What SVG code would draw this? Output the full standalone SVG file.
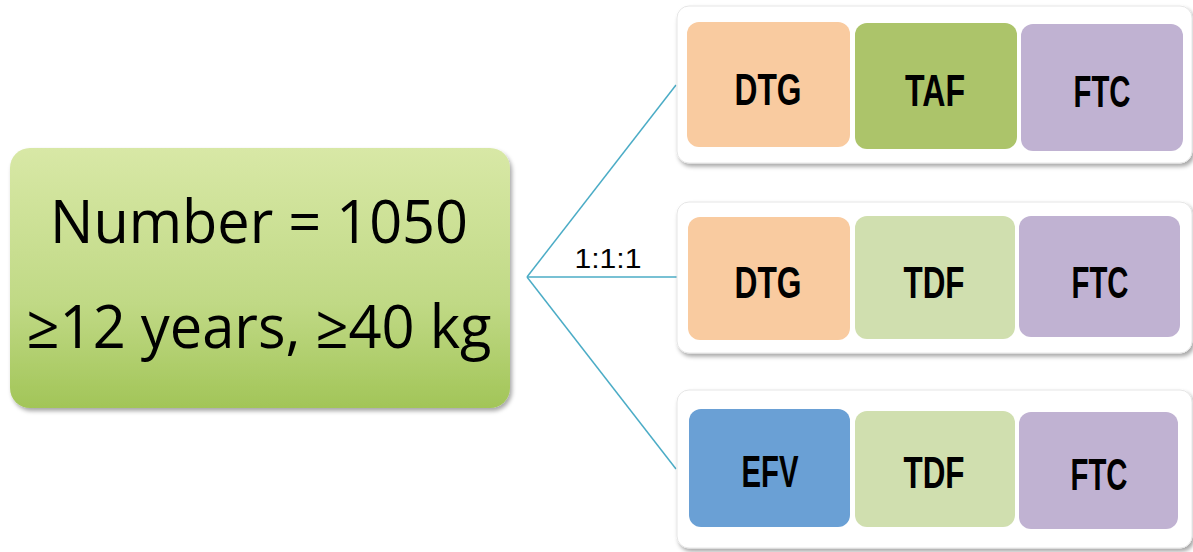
<svg xmlns="http://www.w3.org/2000/svg" width="1193" height="552" viewBox="0 0 1193 552">
<defs>
<linearGradient id="gMain" x1="0" y1="0" x2="0" y2="1">
<stop offset="0" stop-color="#d8e8a6"/>
<stop offset="0.6" stop-color="#c0d985"/>
<stop offset="1" stop-color="#a2c558"/>
</linearGradient>
<filter id="sh" x="-5%" y="-5%" width="115%" height="120%">
<feDropShadow dx="2" dy="3" stdDeviation="2" flood-color="#000" flood-opacity="0.35"/>
</filter>
</defs>
<style>
.lbl{font-family:"Liberation Sans",Arial,sans-serif;font-weight:bold;font-size:45px;fill:#000;text-anchor:middle}
.main{font-family:"Open Sans","Liberation Sans",sans-serif;font-size:60px;fill:#000;text-anchor:middle}
.card{fill:#fff;stroke:#e6e6e6;stroke-width:1;filter:url(#sh)}
.conn{stroke:#4bacc6;stroke-width:1.5;fill:none}
.dtg{fill:#f9cba0}.taf{fill:#acc46a}.ftc{fill:#c0b2d2}.tdf{fill:#d0dfaf}.efv{fill:#6aa0d5}
</style>
<g id="connectors">
<line class="conn" x1="527" y1="277" x2="676" y2="85"/>
<line class="conn" x1="527" y1="277" x2="677" y2="277"/>
<line class="conn" x1="527" y1="277" x2="676" y2="469"/>
<text x="608" y="268" font-family="Liberation Sans,Arial,sans-serif" font-size="28" text-anchor="middle" textLength="67" lengthAdjust="spacingAndGlyphs" fill="#000">1:1:1</text>
</g>
<g id="main">
<rect x="10" y="148" width="500" height="260" rx="20" fill="url(#gMain)" filter="url(#sh)"/>
<text class="main" x="259" y="243" textLength="418" lengthAdjust="spacingAndGlyphs">Number = 1050</text>
<text class="main" x="259" y="348" textLength="465" lengthAdjust="spacingAndGlyphs">≥12 years, ≥40 kg</text>
</g>
<g id="arm1">
<rect class="card" x="677" y="6" width="515" height="157" rx="12"/>
<rect class="dtg" x="687" y="22" width="163" height="125" rx="12"/>
<text class="lbl" x="768" y="105" textLength="67" lengthAdjust="spacingAndGlyphs">DTG</text>
<rect class="taf" x="855" y="23" width="162" height="126" rx="12"/>
<text class="lbl" x="935" y="106" textLength="60" lengthAdjust="spacingAndGlyphs">TAF</text>
<rect class="ftc" x="1021" y="24" width="162" height="127" rx="12"/>
<text class="lbl" x="1102" y="107" textLength="57" lengthAdjust="spacingAndGlyphs">FTC</text>
</g>
<g id="arm2">
<rect class="card" x="677" y="202" width="515" height="151" rx="12"/>
<rect class="dtg" x="688" y="217" width="162" height="123" rx="12"/>
<text class="lbl" x="768" y="298" textLength="67" lengthAdjust="spacingAndGlyphs">DTG</text>
<rect class="tdf" x="855" y="216" width="160" height="123" rx="12"/>
<text class="lbl" x="934" y="298" textLength="61" lengthAdjust="spacingAndGlyphs">TDF</text>
<rect class="ftc" x="1019" y="216" width="161" height="121" rx="12"/>
<text class="lbl" x="1100" y="298" textLength="57" lengthAdjust="spacingAndGlyphs">FTC</text>
</g>
<g id="arm3">
<rect class="card" x="677" y="390" width="515" height="158" rx="12"/>
<rect class="efv" x="689" y="409" width="161" height="118" rx="12"/>
<text class="lbl" x="770" y="487" textLength="57" lengthAdjust="spacingAndGlyphs">EFV</text>
<rect class="tdf" x="855" y="411" width="160" height="116" rx="12"/>
<text class="lbl" x="934" y="488" textLength="61" lengthAdjust="spacingAndGlyphs">TDF</text>
<rect class="ftc" x="1019" y="412" width="159" height="117" rx="12"/>
<text class="lbl" x="1099" y="490" textLength="57" lengthAdjust="spacingAndGlyphs">FTC</text>
</g>
</svg>
